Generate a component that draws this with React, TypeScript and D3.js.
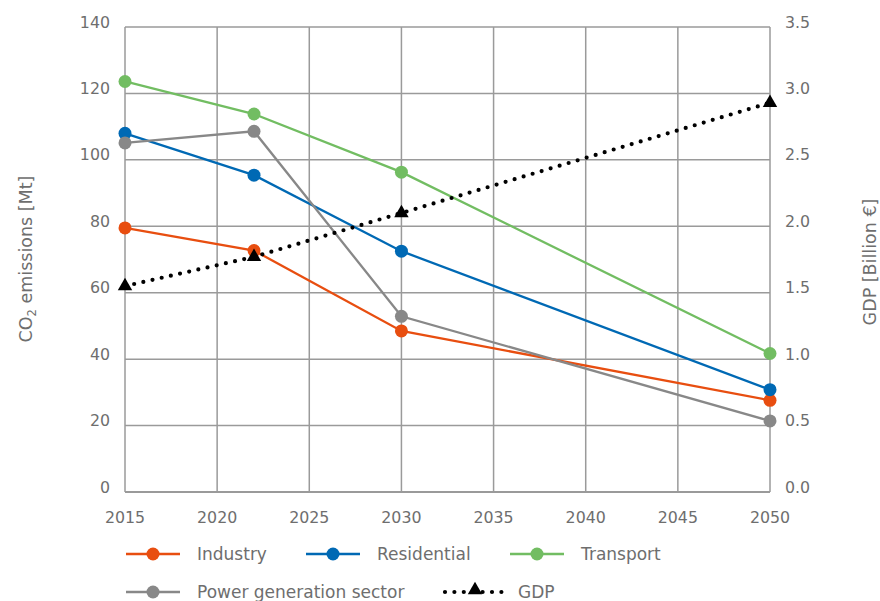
import React from "react";
import * as d3 from "d3";

const years = [2015, 2022, 2030, 2050];
const industry = [79.5, 72.7, 48.5, 27.6];
const residential = [108, 95.4, 72.5, 30.8];
const transport = [123.6, 113.8, 96.3, 41.7];
const power = [105.1, 108.6, 52.9, 21.4];
const gdp = [1.55, 1.77, 2.1, 2.93];

const xTicks = [2015, 2020, 2025, 2030, 2035, 2040, 2045, 2050];
const yTicks = [0, 20, 40, 60, 80, 100, 120, 140];
const y2Ticks = [0, 0.5, 1.0, 1.5, 2.0, 2.5, 3.0, 3.5];

const W = 880, H = 601;
const L = 125, R = 770, T = 27, B = 492;
const FONT = "'DejaVu Sans', sans-serif";
const TXT = "#6e6e6e";
const GRID = "#9a9a9a";
const TICK_FS = 15.8;
const LEG_FS = 17;
const TITLE_FS = 17.5;

const series = [
  { name: "Industry", values: industry, color: "#e84e10" },
  { name: "Residential", values: residential, color: "#0069b4" },
  { name: "Transport", values: transport, color: "#72bd62" },
  { name: "Power generation sector", values: power, color: "#888888" },
];

export default function App() {
  const x = d3.scaleLinear().domain([2015, 2050]).range([L, R]);
  const y = d3.scaleLinear().domain([0, 140]).range([B, T]);
  const y2 = d3.scaleLinear().domain([0, 3.5]).range([B, T]);
  const line = d3.line<number>().x((_, i) => x(years[i])).y((v) => y(v));
  const line2 = d3.line<number>().x((_, i) => x(years[i])).y((v) => y2(v));
  const tri = d3.symbol(d3.symbolTriangle, 90)() as string;

  const legend = [
    { s: series[0], lx: 126, ly: 554 },
    { s: series[1], lx: 306, ly: 554 },
    { s: series[2], lx: 510, ly: 554 },
    { s: series[3], lx: 126, ly: 592 },
  ];

  return (
    <svg width={W} height={H} style={{ position: "absolute", left: 0, top: 0, background: "#fff" }} fontFamily={FONT}>
      {/* grid */}
      {xTicks.map((t) => (
        <line key={"gx" + t} x1={x(t)} x2={x(t)} y1={T} y2={B} stroke={GRID} strokeWidth={1.5} />
      ))}
      {yTicks.map((t) => (
        <line key={"gy" + t} x1={L} x2={R} y1={y(t)} y2={y(t)} stroke={GRID} strokeWidth={1.5} />
      ))}
      <line x1={L} x2={R} y1={B} y2={B} stroke={GRID} strokeWidth={2} />
      {/* tick labels */}
      {yTicks.map((t) => (
        <text key={"yl" + t} x={110} y={y(t) + 0.5} textAnchor="end" fontSize={TICK_FS} fill={TXT}>{t}</text>
      ))}
      {y2Ticks.map((t) => (
        <text key={"y2l" + t} x={785} y={y2(t) + 0.5} textAnchor="start" fontSize={TICK_FS} fill={TXT}>{t.toFixed(1)}</text>
      ))}
      {xTicks.map((t) => (
        <text key={"xl" + t} x={x(t)} y={523} textAnchor="middle" fontSize={TICK_FS} fill={TXT}>{t}</text>
      ))}
      {/* axis titles */}
      <text transform={`translate(32,259) rotate(-90)`} textAnchor="middle" fontSize={TITLE_FS} fill={TXT}>
        CO<tspan fontSize={11.5} dy={4}>2</tspan><tspan dy={-4}> emissions [Mt]</tspan>
      </text>
      <text transform={`translate(876,262) rotate(-90)`} textAnchor="middle" fontSize={TITLE_FS} fill={TXT}>
        GDP [Billion €]
      </text>
      {/* series */}
      {series.map((s) => (
        <g key={s.name}>
          <path d={line(s.values) as string} fill="none" stroke={s.color} strokeWidth={2.3} />
          {s.values.map((v, i) => (
            <circle key={i} cx={x(years[i])} cy={y(v)} r={6.5} fill={s.color} />
          ))}
        </g>
      ))}
      <path d={line2(gdp) as string} fill="none" stroke="#000" strokeWidth={4.2} strokeDasharray="0 9.4" strokeLinecap="round" />
      {gdp.map((v, i) => (
        <path key={i} d={tri} transform={`translate(${x(years[i])},${y2(v)})`} fill="#000" />
      ))}
      {/* legend */}
      {legend.map(({ s, lx, ly }) => (
        <g key={"lg" + s.name}>
          <line x1={lx} x2={lx + 54} y1={ly} y2={ly} stroke={s.color} strokeWidth={2.3} />
          <circle cx={lx + 27} cy={ly} r={6.5} fill={s.color} />
          <text x={lx + 71} y={ly + 6} fontSize={LEG_FS} fill={TXT}>{s.name}</text>
        </g>
      ))}
      <g>
        <line x1={445} x2={506} y1={592} y2={592} stroke="#000" strokeWidth={4.2} strokeDasharray="0 9.4" strokeLinecap="round" />
        <path d={tri} transform={`translate(475,590)`} fill="#000" />
        <text x={518} y={598} fontSize={LEG_FS} fill={TXT}>GDP</text>
      </g>
    </svg>
  );
}
